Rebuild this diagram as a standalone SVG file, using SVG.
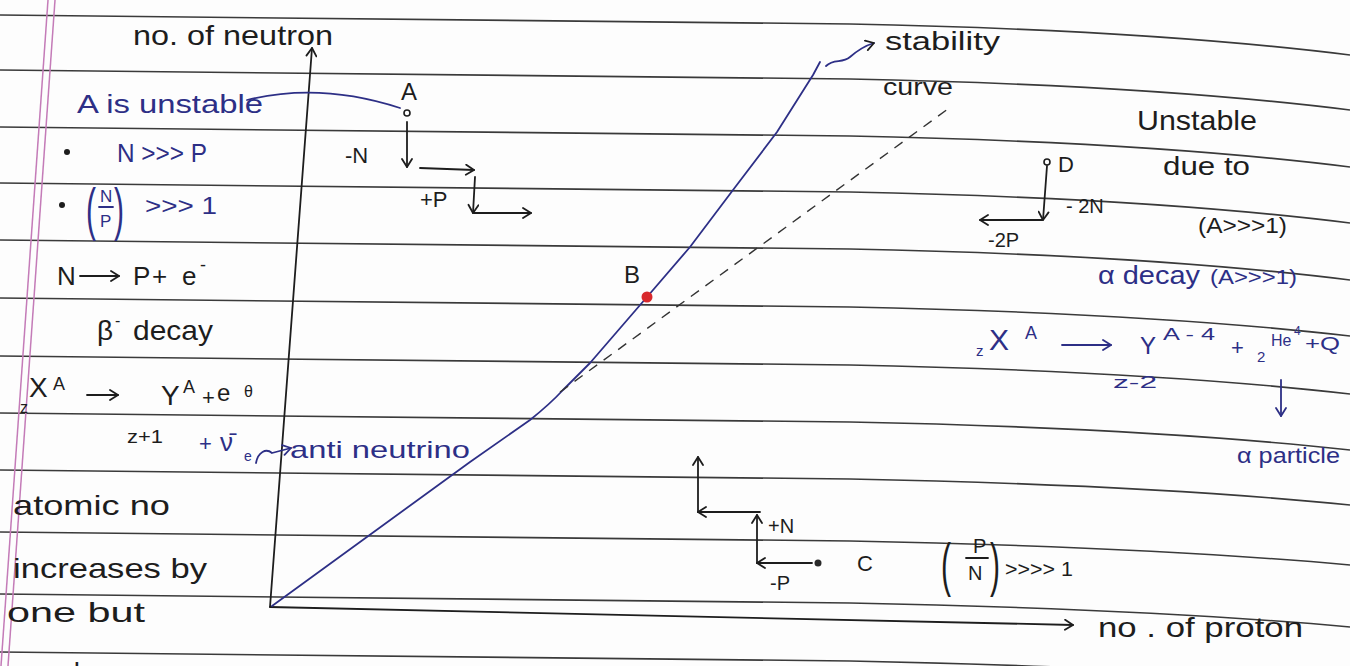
<svg xmlns="http://www.w3.org/2000/svg" width="1350" height="666" viewBox="0 0 1350 666">
<style>
.rule{fill:none;stroke:#3a3a3a;stroke-width:1.6}
.margin{fill:none;stroke:#c47bb8;stroke-width:1.5}
text{font-family:"Liberation Sans","DejaVu Sans",sans-serif}
.k{fill:#1d1d1d}
.b{fill:#2d2f86}
.ln{fill:none;stroke:#1d1d1d;stroke-width:1.8;stroke-linecap:round;stroke-linejoin:round}
.lb{fill:none;stroke:#2d2f86;stroke-width:1.8;stroke-linecap:round;stroke-linejoin:round}
.ak{marker-end:url(#hk)}
.ab{marker-end:url(#hb)}
.dash{fill:none;stroke:#333;stroke-width:1.4;stroke-dasharray:10 8}
</style>
<defs>
<marker id="hk" markerUnits="userSpaceOnUse" markerWidth="14" markerHeight="12" refX="11" refY="6" orient="auto" viewBox="0 0 14 12"><path d="M3,1 L11,6 L3,11" fill="none" stroke="#1d1d1d" stroke-width="1.8" stroke-linecap="round" stroke-linejoin="round"/></marker>
<marker id="hb" markerUnits="userSpaceOnUse" markerWidth="14" markerHeight="12" refX="11" refY="6" orient="auto" viewBox="0 0 14 12"><path d="M3,1 L11,6 L3,11" fill="none" stroke="#2d2f86" stroke-width="1.8" stroke-linecap="round" stroke-linejoin="round"/></marker>
</defs>
<rect width="1350" height="666" fill="#fdfdfd"/>
<g id="page">
<path class="rule" d="M0,15 L850,24 Q1150,30 1350,55"/>
<path class="rule" d="M0,70 L850,79 Q1150,85 1350,110"/>
<path class="rule" d="M0,127 L850,136 Q1150,142 1350,167"/>
<path class="rule" d="M0,183 L850,192 Q1150,198 1350,223"/>
<path class="rule" d="M0,240 L850,249 Q1150,255 1350,280"/>
<path class="rule" d="M0,298 L850,307 Q1150,313 1350,336"/>
<path class="rule" d="M0,356 L850,365 Q1150,371 1350,394"/>
<path class="rule" d="M0,413 L850,422 Q1150,428 1350,450"/>
<path class="rule" d="M0,470 L850,479 Q1150,485 1350,505"/>
<path class="rule" d="M0,532 L850,541 Q1150,547 1350,565"/>
<path class="rule" d="M0,594 L850,603 Q1150,609 1350,627"/>
<path class="rule" d="M0,652 L850,661 Q1150,667 1350,685"/>
<path class="margin" d="M48,0 L1,666"/>
<path class="margin" d="M55,0 L8,666"/>
</g>
<g id="axes">
<path class="ln ak" d="M270,607 L312,48"/>
<path class="ln ak" d="M270,607 L1073,625"/>
<text class="k" x="133" y="45" font-size="28" textLength="200" lengthAdjust="spacingAndGlyphs">no. of neutron</text>
<text class="k" x="1098" y="637" font-size="28" textLength="205" lengthAdjust="spacingAndGlyphs">no . of  proton</text>
</g>
<g id="stability-curve">
<path class="lb" d="M272,606 L470,462 L530,420 Q550,404 563,390 L590,363 L647,297 L690,247 L733,190 L777,132 L813,75 L820,62"/>
<path class="dash" d="M560,392 L952,106"/>
<path class="lb ak" d="M826,66 C834,58 842,64 850,57 S864,46 874,43"/>
<text class="k" x="885" y="50" font-size="26" textLength="115" lengthAdjust="spacingAndGlyphs">stability</text>
<text class="k" x="883" y="95" font-size="24" textLength="70" lengthAdjust="spacingAndGlyphs">curve</text>
</g>
<g id="point-A">
<circle cx="407" cy="113" r="3" fill="#fff" stroke="#1d1d1d" stroke-width="1.6"/>
<text class="k" x="401" y="100" font-size="24">A</text>
<text class="k" x="345" y="163" font-size="22">-N</text>
<text class="k" x="420" y="207" font-size="22">+P</text>
</g>
<g id="point-B">
<circle cx="647" cy="297" r="5.5" fill="#d8282c"/>
<text class="k" x="624" y="283" font-size="24">B</text>
</g>
<g id="point-C">
<circle cx="818" cy="563" r="3.5" fill="#2a2a2a"/>
<text class="k" x="857" y="571" font-size="22">C</text>
<text class="k" x="768" y="533" font-size="20">+N</text>
<text class="k" x="770" y="590" font-size="20">-P</text>
<text class="k" font-size="30" transform="translate(941,585) scale(1,2)">(</text>
<text class="k" x="973" y="553" font-size="20">P</text>
<path class="ln" d="M966,558 L988,558"/>
<text class="k" x="968" y="580" font-size="20">N</text>
<text class="k" font-size="30" transform="translate(990,585) scale(1,2)">)</text>
<text class="k" x="1005" y="576" font-size="20" textLength="68" lengthAdjust="spacingAndGlyphs">&gt;&gt;&gt;&gt; 1</text>
</g>
<g id="point-D">
<circle cx="1047" cy="162" r="3" fill="#fff" stroke="#1d1d1d" stroke-width="1.6"/>
<text class="k" x="1058" y="172" font-size="22">D</text>
<text class="k" x="1066" y="213" font-size="20">- 2N</text>
<text class="k" x="988" y="247" font-size="20">-2P</text>
<text class="k" x="1137" y="130" font-size="28" textLength="120" lengthAdjust="spacingAndGlyphs">Unstable</text>
<text class="k" x="1163" y="175" font-size="26" textLength="87" lengthAdjust="spacingAndGlyphs">due to</text>
<text class="k" x="1198" y="233" font-size="22" textLength="89" lengthAdjust="spacingAndGlyphs">(A&gt;&gt;&gt;1)</text>
</g>
<g id="beta-notes">
<text class="b" x="77" y="113" font-size="26" textLength="186" lengthAdjust="spacingAndGlyphs">A is unstable</text>
<circle cx="67" cy="152" r="3" fill="#1d1d1d"/>
<text class="b" x="117" y="162" font-size="26" textLength="90" lengthAdjust="spacingAndGlyphs">N &gt;&gt;&gt; P</text>
<circle cx="62" cy="205" r="3" fill="#1d1d1d"/>
<text class="b" font-size="30" transform="translate(86,229) scale(1,1.9)">(</text>
<text class="b" x="100" y="202" font-size="17">N</text>
<path class="lb" d="M99,207 L113,207"/>
<text class="b" x="100" y="227" font-size="17">P</text>
<text class="b" font-size="30" transform="translate(114,229) scale(1,1.9)">)</text>
<text class="b" x="145" y="214" font-size="24" textLength="72" lengthAdjust="spacingAndGlyphs">&gt;&gt;&gt; 1</text>
<text class="k" x="57" y="285" font-size="26">N</text>
<text class="k" x="133" y="285" font-size="26">P</text>
<text class="k" x="152" y="285" font-size="26">+</text>
<text class="k" x="182" y="285" font-size="26">e</text>
<text class="k" x="200" y="271" font-size="18">-</text>
<text class="k" x="97" y="340" font-size="28">β</text>
<text class="k" x="115" y="326" font-size="16">-</text>
<text class="k" x="133" y="340" font-size="28" textLength="80" lengthAdjust="spacingAndGlyphs">decay</text>
<text class="k" x="20" y="413" font-size="16">z</text>
<text class="k" x="29" y="397" font-size="28">X</text>
<text class="k" x="53" y="390" font-size="18">A</text>
<text class="k" x="161" y="405" font-size="28">Y</text>
<text class="k" x="183" y="393" font-size="18">A</text>
<text class="k" x="202" y="405" font-size="22">+</text>
<text class="k" x="217" y="401" font-size="24">e</text>
<text class="k" x="244" y="397" font-size="16">θ</text>
<text class="k" x="127" y="443" font-size="18" textLength="36" lengthAdjust="spacingAndGlyphs">z+1</text>
<text class="b" x="199" y="451" font-size="22">+</text>
<text class="b" x="220" y="451" font-size="26">ν̄</text>
<text class="b" x="244" y="461" font-size="14">e</text>
<text class="b" x="290" y="458" font-size="24" textLength="180" lengthAdjust="spacingAndGlyphs">anti neutrino</text>
<text class="k" x="13" y="515" font-size="28" textLength="157" lengthAdjust="spacingAndGlyphs">atomic no</text>
<text class="k" x="13" y="578" font-size="28" textLength="194" lengthAdjust="spacingAndGlyphs">increases by</text>
<text class="k" x="7" y="622" font-size="28" textLength="138" lengthAdjust="spacingAndGlyphs">one   but</text>
<text class="k" x="13" y="682" font-size="28">may be</text>
</g>
<g id="alpha-notes">
<text class="b" x="1098" y="284" font-size="26" textLength="102" lengthAdjust="spacingAndGlyphs">α decay</text>
<text class="b" x="1210" y="284" font-size="20" textLength="87" lengthAdjust="spacingAndGlyphs">(A&gt;&gt;&gt;1)</text>
<text class="b" x="976" y="356" font-size="15">z</text>
<text class="b" x="989" y="350" font-size="30">X</text>
<text class="b" x="1025" y="339" font-size="18">A</text>
<text class="b" x="1140" y="354" font-size="24">Y</text>
<text class="b" x="1163" y="340" font-size="17" textLength="52" lengthAdjust="spacingAndGlyphs">A - 4</text>
<text class="b" x="1113" y="388" font-size="16" textLength="44" lengthAdjust="spacingAndGlyphs">z-2</text>
<text class="b" x="1231" y="355" font-size="22">+</text>
<text class="b" x="1257" y="362" font-size="15">2</text>
<text class="b" x="1271" y="346" font-size="16">He</text>
<text class="b" x="1294" y="335" font-size="12">4</text>
<text class="b" x="1305" y="350" font-size="18" textLength="35" lengthAdjust="spacingAndGlyphs">+Q</text>
<text class="b" x="1237" y="463" font-size="22" textLength="103" lengthAdjust="spacingAndGlyphs">α particle</text>
</g>
<g id="connectors">
<path class="lb" d="M247,100 Q320,82 400,108"/>
<path class="ln ak" d="M407,122 L407,167"/>
<path class="ln ak" d="M420,168 L474,170"/>
<path class="ln ak" d="M475,177 L473,213"/>
<path class="ln ak" d="M474,213 L531,213"/>
<path class="ln ak" d="M1047,166 L1043,220"/>
<path class="ln ak" d="M1042,220 L980,220"/>
<path class="ln ak" d="M812,563 L757,563"/>
<path class="ln ak" d="M757,563 L757,515"/>
<path class="ln ak" d="M760,512 L698,512"/>
<path class="ln ak" d="M698,512 L698,457"/>
<path class="ln ak" d="M80,276 L119,276"/>
<path class="ln ak" d="M87,395 L118,395"/>
<path class="lb ab" d="M1062,345 L1111,345"/>
<path class="lb ab" d="M1281,380 L1281,416"/>
<path class="lb ab" d="M256,463 C258,452 266,448 272,453 L291,448"/>
</g>
</svg>
